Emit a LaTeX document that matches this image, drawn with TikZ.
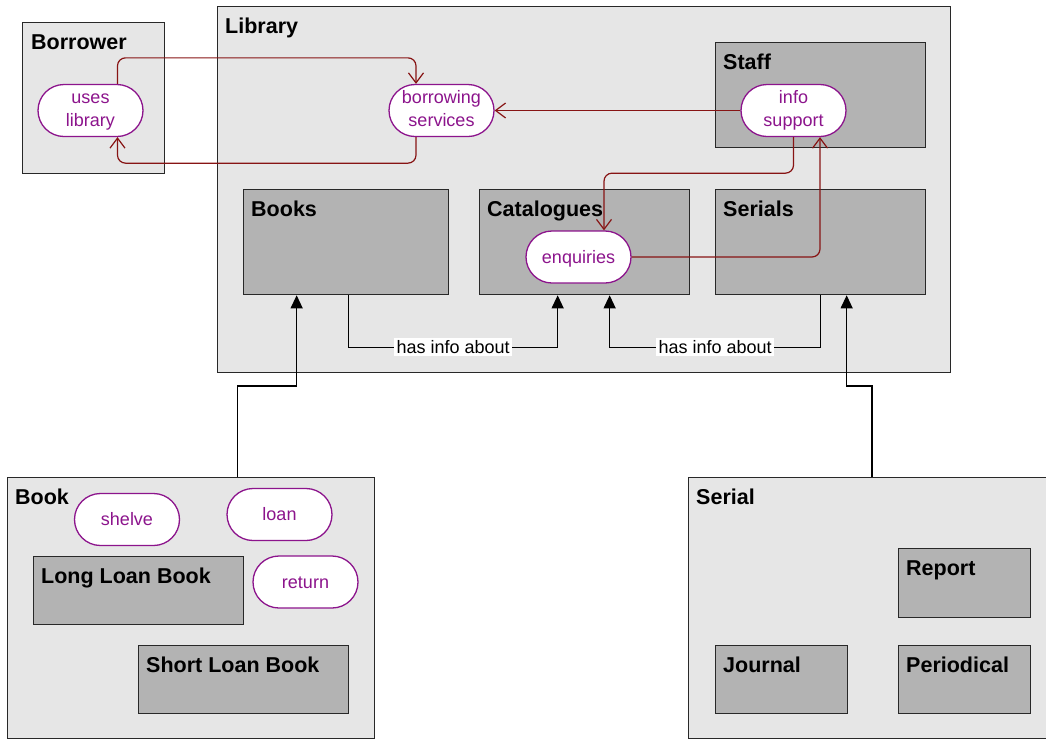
\documentclass[tikz,border=0pt]{standalone}
\usepackage{fontspec}
\setmainfont{Liberation Sans}
\usetikzlibrary{arrows.meta,calc}
\definecolor{pkgfill}{RGB}{230,230,230}
\definecolor{clsfill}{RGB}{179,179,179}
\definecolor{edgeline}{RGB}{40,40,40}
\definecolor{ucpurple}{RGB}{140,20,140}
\definecolor{flowred}{RGB}{135,20,20}
% two-line use case label, hung from its first baseline
\newcommand\uclines[2]{\begin{tabular}[t]{@{}c@{}}#1\\#2\end{tabular}}
\begin{document}
\begin{tikzpicture}[x=1pt,y=-1pt,
  box/.style={draw=edgeline,line width=1.3pt,anchor=north west,inner sep=0pt},
  pkg/.style={box,fill=pkgfill},
  cls/.style={box,fill=clsfill},
  title/.style={anchor=base west,inner sep=0pt,font=\fontsize{21.5}{24}\selectfont\bfseries},
  uc/.style={draw=ucpurple,line width=1.3pt,fill=white,rounded corners=26pt,
    minimum width=105pt,minimum height=52pt,inner sep=0pt,
    text=ucpurple,font=\fontsize{18}{22.5}\selectfont},
  ucone/.style={uc,text height=16pt,text depth=4pt},
  flow/.style={draw=flowred,line width=1.2pt,rounded corners=8pt,
    -{Straight Barb[length=10pt,width=15pt,line width=1.2pt]}},
  assoc/.style={draw=black,line width=1.2pt,-{Triangle[length=13pt,width=12pt]}},
  lbl/.style={fill=white,inner sep=2.5pt,font=\fontsize{18}{21}\selectfont}]

\useasboundingbox (0,0) rectangle (1046,740);

% packages
\node[pkg,minimum width=142pt,minimum height=151pt] (borrower) at (22,22) {};
\node[title] (borrowerT) at ([shift={(9,27)}]borrower.north west) {Borrower};
\node[pkg,minimum width=733pt,minimum height=366pt] (lib) at (217,6) {};
\node[title] (libT) at ([shift={(8,27)}]lib.north west) {Library};
\node[pkg,minimum width=367pt,minimum height=261pt] (book) at (7,477) {};
\node[title] (bookT) at ([shift={(8,27)}]book.north west) {Book};
\node[pkg,minimum width=370pt,minimum height=261pt] (serial) at (688,477) {};
\node[title] (serialT) at ([shift={(8,27)}]serial.north west) {Serial};

% classes inside Library
\node[cls,minimum width=210pt,minimum height=105pt] (staff) at (715,42) {};
\node[title] (staffT) at ([shift={(8,27)}]staff.north west) {Staff};
\node[cls,minimum width=205pt,minimum height=105pt] (books) at (243,189) {};
\node[title] (booksT) at ([shift={(8,27)}]books.north west) {Books};
\node[cls,minimum width=210pt,minimum height=105pt] (cat) at (479,189) {};
\node[title] (catT) at ([shift={(8,27)}]cat.north west) {Catalogues};
\node[cls,minimum width=210pt,minimum height=105pt] (sers) at (715,189) {};
\node[title] (sersT) at ([shift={(8,27)}]sers.north west) {Serials};

% classes inside Book and Serial
\node[cls,minimum width=210pt,minimum height=68pt] (longloan) at (33,556) {};
\node[title] (longloanT) at ([shift={(8,27)}]longloan.north west) {Long Loan Book};
\node[cls,minimum width=210pt,minimum height=68pt] (shortloan) at (138,645) {};
\node[title] (shortloanT) at ([shift={(8,27)}]shortloan.north west) {Short Loan Book};
\node[cls,minimum width=132pt,minimum height=69pt] (report) at (898,548) {};
\node[title] (reportT) at ([shift={(8,27)}]report.north west) {Report};
\node[cls,minimum width=132pt,minimum height=68pt] (journal) at (715,645) {};
\node[title] (journalT) at ([shift={(8,27)}]journal.north west) {Journal};
\node[cls,minimum width=132pt,minimum height=68pt] (periodical) at (898,645) {};
\node[title] (periodicalT) at ([shift={(8,27)}]periodical.north west) {Periodical};

% use cases
\node[uc] (uses) at (90.5,110.5) {\uclines{uses}{library}};
\node[uc] (bs) at (441.5,110.5) {\uclines{borrowing}{services}};
\node[uc] (info) at (793.5,110.5) {\uclines{info}{support}};
\node[ucone] (enq) at (578.5,257) {enquiries};
\node[ucone] (shelve) at (127,519.5) {shelve};
\node[ucone] (loan) at (279.5,514.5) {loan};
\node[ucone] (return) at (305.5,582) {return};

% message flows
\draw[flow] ([xshift=27]uses.north) -- ++(0,-26) -| ([xshift=-25.5]bs.north);
\draw[flow] ([xshift=-25.5]bs.south) -- ++(0,26) -| ([xshift=27]uses.south);
\draw[flow] (info.west) -- (bs.east);
\draw[flow] (info.south) -- ++(0,36) -| ([xshift=25.5]enq.north);
\draw[flow] (enq.east) -| ([xshift=26.5]info.south);

% associations
\draw[assoc] ([xshift=2.5]books.south) -- ++(0,52) -| node[lbl,pos=0.25] {has info about} ([xshift=-27]cat.south);
\draw[assoc] (sers.south) -- ++(0,52) -| node[lbl,pos=0.25] {has info about} ([xshift=25]cat.south);
\draw[assoc] ([xshift=46.5]book.north) -- ++(0,-91) -| ([xshift=-49.5]books.south);
\draw[assoc] ([xshift=184]serial.north west) -- ++(0,-91) -| ([xshift=26]sers.south);
\end{tikzpicture}
\end{document}
